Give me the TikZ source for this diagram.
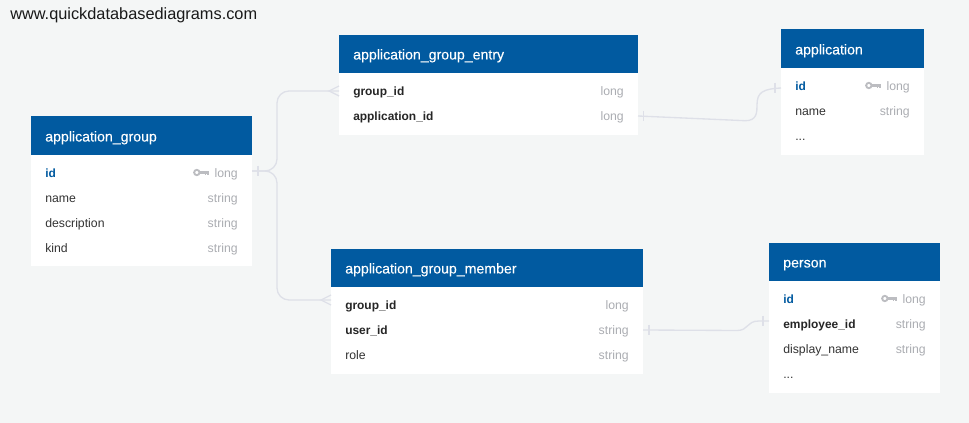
\documentclass[tikz,border=0pt]{standalone}
\usepackage{fontspec}
\setmainfont{Liberation Sans}
\newfontfamily\titlefont[FakeBold=0.25]{Liberation Sans}
\definecolor{bgc}{HTML}{F4F6F6}
\definecolor{hdr}{HTML}{015AA0}
\definecolor{lnk}{HTML}{DEE0E8}
\definecolor{typ}{HTML}{ABADB2}
\definecolor{txt}{HTML}{333333}
\tikzset{
  tbody/.style={fill=white,draw=none,inner sep=0pt,anchor=north west},
  thead/.style={fill=hdr,draw=none,inner sep=0pt,anchor=north west},
  ttitle/.style={text=white,font=\titlefont\fontsize{10.6pt}{12pt}\selectfont,anchor=base west,inner sep=0pt,yshift=0.4pt},
  fname/.style={text=txt,font=\fontsize{9.2pt}{11pt}\selectfont,anchor=base west,inner sep=0pt,yshift=0.35pt},
  fbold/.style={fname,text=black!85,font=\fontsize{8.95pt}{11pt}\selectfont\bfseries},
  fkey/.style={fname,text=hdr,font=\fontsize{8.95pt}{11pt}\selectfont\bfseries},
  ftype/.style={text=typ,font=\fontsize{9.2pt}{11pt}\selectfont,anchor=base east,inner sep=0pt,yshift=0.35pt},
  link/.style={draw=lnk,line width=1pt},
  keyicon/.style={draw=typ!80,line width=1.4pt},
}
\newcommand{\tbl}[6]{% name, x, y, w, header h, body h
  \node[tbody,minimum width=#4*0.75pt,minimum height=#6*0.75pt] (#1body) at (#2,#3+#5) {};
  \node[thead,minimum width=#4*0.75pt,minimum height=#5*0.75pt] (#1head) at (#2,#3) {};
}
\newcommand{\keyat}[1]{%
  \draw[keyicon] ([xshift=-2.4pt]#1) circle (2pt);
  \draw[keyicon,line width=1.6pt] ([xshift=-0.6pt]#1) -- ([xshift=6.6pt]#1);
  \draw[keyicon,line width=1pt] ([xshift=3.9pt,yshift=-0.4pt]#1) -- ([xshift=3.9pt,yshift=-2.2pt]#1);
  \draw[keyicon,line width=1pt] ([xshift=6pt,yshift=-0.4pt]#1) -- ([xshift=6pt,yshift=-2.2pt]#1);
}
\begin{document}
\begin{tikzpicture}[x=0.75pt,y=-0.75pt]
\useasboundingbox[fill=bgc] (0,0) rectangle (969,423);
\node[anchor=base west,inner sep=0pt,text=black!90,font=\fontsize{12.25pt}{14pt}\selectfont] (site) at (10,20) {www.quickdatabasediagrams.com};

\tbl{ag}{31}{116}{221}{39}{111}
\tbl{age}{339}{35}{299}{38}{62}
\tbl{app}{781}{29}{143}{39}{87}
\tbl{agm}{331}{249}{312}{38}{87}
\tbl{per}{769}{243}{171}{38}{112}

% application_group
\node[ttitle] (agt) at (45,142) {application\_group};
\node[fkey] (ag1) at (45,178) {id};
\node[ftype] (ag1t) at (238,178) {long};
\coordinate (ag1k) at (200,172.5); \keyat{ag1k}
\node[fname] (ag2) at (45,203) {name};
\node[ftype] (ag2t) at (238,203) {string};
\node[fname] (ag3) at (45,228) {description};
\node[ftype] (ag3t) at (238,228) {string};
\node[fname] (ag4) at (45,253) {kind};
\node[ftype] (ag4t) at (238,253) {string};

% application_group_entry
\node[ttitle] (aget) at (353,60) {application\_group\_entry};
\node[fbold] (age1) at (353,96) {group\_id};
\node[ftype] (age1t) at (624,96) {long};
\node[fbold] (age2) at (353,121) {application\_id};
\node[ftype] (age2t) at (624,121) {long};

% application
\node[ttitle] (appt) at (795,55) {application};
\node[fkey] (app1) at (795,91) {id};
\node[ftype] (app1t) at (910,91) {long};
\coordinate (app1k) at (872,85.5); \keyat{app1k}
\node[fname] (app2) at (795,116) {name};
\node[ftype] (app2t) at (910,116) {string};
\node[fname] (app3) at (795,141) {...};

% application_group_member
\node[ttitle] (agmt) at (345,274) {application\_group\_member};
\node[fbold] (agm1) at (345,310) {group\_id};
\node[ftype] (agm1t) at (629,310) {long};
\node[fbold] (agm2) at (345,335) {user\_id};
\node[ftype] (agm2t) at (629,335) {string};
\node[fname] (agm3) at (345,360) {role};
\node[ftype] (agm3t) at (629,360) {string};

% person
\node[ttitle] (pert) at (783,268) {person};
\node[fkey] (per1) at (783,304) {id};
\node[ftype] (per1t) at (926,304) {long};
\coordinate (per1k) at (888,298.5); \keyat{per1k}
\node[fbold] (per2) at (783,329) {employee\_id};
\node[ftype] (per2t) at (926,329) {string};
\node[fname] (per3) at (783,354) {display\_name};
\node[ftype] (per3t) at (926,354) {string};
\node[fname] (per4) at (783,379) {...};

% connector ends on the table edges
\coordinate (pAg) at (252,171);
\coordinate (pE1) at (339,91);
\coordinate (pM1) at (331,300);
\coordinate (pE2) at (638,116);
\coordinate (pA1) at (781,88);
\coordinate (pM2) at (643,330);
\coordinate (pP2) at (769,321);

% connectors
\draw[link,rounded corners=9pt] (pAg) -- (277,171) -- (277,91) -- (pE1);
\draw[link,rounded corners=9pt] (pAg) -- (277,171) -- (277,300) -- (pM1);
\draw[link] (pE2) -- (745,120.7) .. controls (757,121) and (757,112) .. (757,105)
   .. controls (757,92) and (763,89) .. (pA1);
\draw[link] (pM2) -- (737,330.5) .. controls (749,330.5) and (746,321) .. (759,321) -- (pP2);

% ticks and crow's feet
\draw[link] (258,166) -- (258,176);
\draw[link] (339,86) -- (329,91) -- (339,96);
\draw[link] (331,295) -- (321,300) -- (331,305);
\draw[link] (643.5,111) -- (643.5,121);
\draw[link] (775,83) -- (775,93);
\draw[link] (649,325) -- (649,335);
\draw[link] (763,316) -- (763,326);
\end{tikzpicture}
\end{document}
